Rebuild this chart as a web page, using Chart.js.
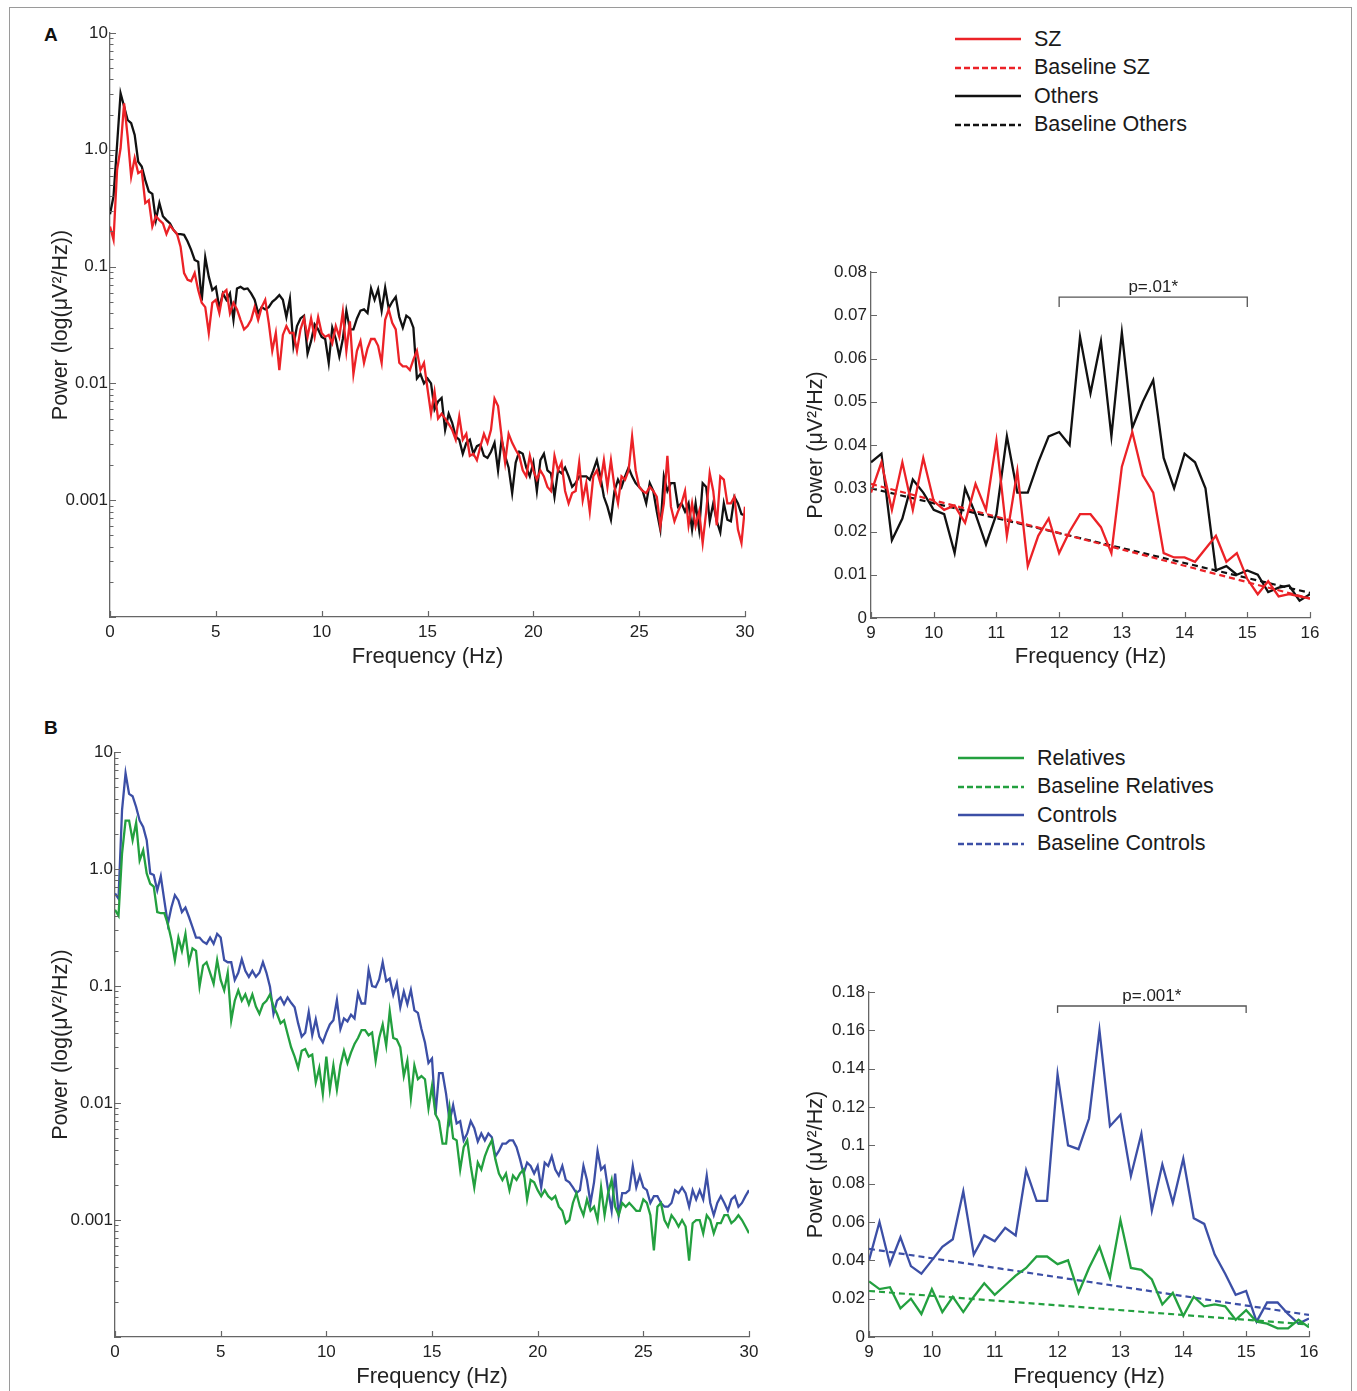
<!DOCTYPE html>
<html><head><meta charset="utf-8">
<script src="https://cdn.jsdelivr.net/npm/chart.js@4.4.1/dist/chart.umd.min.js"></script>
<style>
html,body{margin:0;padding:0;background:#fff;overflow:hidden;width:1357px;height:1391px;font-family:'Liberation Sans',Arial,sans-serif;}
.frame{position:absolute;left:9px;top:7px;width:1343px;height:1420px;border:1px solid #9a9a9a;box-sizing:border-box;}
canvas{position:absolute;}
.tag{position:absolute;font-weight:bold;font-size:19px;color:#111;line-height:19px;}
.legend{position:absolute;font-size:21.5px;color:#1a1a1a;}
.legend .row{display:flex;align-items:center;height:28.5px;white-space:nowrap;}
.legend svg{margin-right:13px;flex:none;}
</style></head><body>
<div class="frame"></div>
<div class="tag" style="left:44px;top:25px">A</div>
<div class="tag" style="left:44px;top:718px">B</div>
<canvas id="leftA" width="716" height="653" style="left:44px;top:20px"></canvas>
<canvas id="rightA" width="531" height="423" style="left:799px;top:250px"></canvas>
<canvas id="leftB" width="720" height="653" style="left:44px;top:740px"></canvas>
<canvas id="rightB" width="531" height="423" style="left:799px;top:970px"></canvas>
<div class="legend" id="legendA" style="left:955px;top:25px"></div>
<div class="legend" id="legendB" style="left:958px;top:744px"></div>
<script>
// ---------- data ----------
const STEP_HZ = 1 / 6;          // spectral resolution
const ALPHA_START_HZ = 9;
const HIGH_START_HZ = 16 + 1 / 6;

// Panel A : SZ (red) vs Others (black)
const szLow = [0.22,0.17,0.67,1.03,2.5,1.3,0.59,0.85,0.63,0.66,
  0.35,0.37,0.22,0.27,0.25,0.234,0.19,0.225,0.206,0.19,
  0.148,0.088,0.077,0.075,0.088,0.063,0.049,0.045,0.027,0.049,
  0.052,0.040,0.059,0.063,0.040,0.049,0.043,0.035,0.029,0.031,
  0.035,0.045,0.035,0.045,0.052,0.033,0.019,0.027,0.013,0.026,
  0.031,0.027,0.027,0.019];
const szAlpha = [0.029,0.036,0.025,0.036,0.025,0.037,0.027,0.025,0.026,0.022,
  0.031,0.025,0.041,0.019,0.034,0.012,0.019,0.023,0.015,0.020,
  0.024,0.024,0.021,0.015,0.035,0.043,0.033,0.029,0.015,0.014,
  0.014,0.013,0.016,0.019,0.013,0.015,0.009,0.0055,0.0085,0.005,
  0.0055,0.005,0.0045];
const szHigh = [0.0040,0.0033,0.0052,0.0033,0.0037,0.0024,0.0025,0.0022,0.0029,0.0037,
  0.0031,0.0040,0.0074,0.0064,0.0035,0.0021,0.0037,0.0031,0.0027,0.0024,
  0.0018,0.0016,0.0024,0.0018,0.0015,0.0018,0.0016,0.0013,0.0012,0.0024,
  0.0018,0.0021,0.0012,0.00094,0.00115,0.0012,0.0021,0.0010,0.0014,0.0008,
  0.0016,0.0018,0.0014,0.0022,0.0013,0.0022,0.0013,0.00094,0.0016,0.0015,
  0.0018,0.0035,0.0018,0.0013,0.0012,0.00115,0.0013,0.0012,0.00107,0.0006,
  0.00094,0.0024,0.00088,0.00066,0.0008,0.00094,0.0012,0.00061,0.00094,0.0006,
  0.0008,0.00043,0.0008,0.0017,0.0012,0.00061,0.0016,0.0015,0.00094,0.00094,
  0.00107,0.00056,0.00043,0.00088];
const othLow = [0.28,0.40,1.1,3.05,2.35,1.8,1.69,1.34,0.79,0.72,
  0.55,0.44,0.42,0.25,0.35,0.27,0.25,0.234,0.206,0.19,
  0.19,0.187,0.164,0.139,0.114,0.11,0.051,0.12,0.082,0.063,
  0.067,0.044,0.059,0.052,0.059,0.035,0.065,0.067,0.064,0.065,
  0.059,0.052,0.040,0.045,0.043,0.045,0.050,0.053,0.057,0.052,
  0.037,0.053,0.021,0.031];
const othAlpha = [0.036,0.038,0.018,0.023,0.032,0.029,0.025,0.024,0.015,0.030,
  0.024,0.017,0.024,0.042,0.029,0.029,0.036,0.042,0.043,0.040,
  0.065,0.052,0.064,0.042,0.066,0.044,0.050,0.055,0.037,0.030,
  0.038,0.036,0.030,0.011,0.012,0.010,0.011,0.010,0.006,0.007,
  0.0075,0.004,0.0055];
const othHigh = [0.0046,0.0035,0.0033,0.0025,0.0031,0.0033,0.0025,0.0029,0.0030,0.0024,
  0.0023,0.0026,0.0031,0.0018,0.0033,0.0024,0.0019,0.00115,0.0021,0.0026,
  0.0025,0.0019,0.0016,0.0021,0.0012,0.0022,0.0025,0.0018,0.0017,0.00107,
  0.0018,0.0017,0.0019,0.0016,0.0013,0.0014,0.0016,0.0016,0.0016,0.0015,
  0.0018,0.0022,0.0016,0.00107,0.00088,0.00068,0.0012,0.0015,0.0013,0.0016,
  0.0019,0.0016,0.0014,0.0013,0.0012,0.00094,0.0014,0.0012,0.0008,0.00056,
  0.0016,0.0012,0.0014,0.0014,0.00088,0.00094,0.0008,0.00094,0.00056,0.00094,
  0.00056,0.0014,0.0013,0.00066,0.00094,0.00066,0.00053,0.00094,0.00068,0.00066,
  0.00107,0.00094,0.00076,0.00074];

// Panel B : Relatives (green) vs Controls (blue)
const relLow = [0.45,0.40,1.36,2.6,2.6,1.77,2.5,1.19,1.45,0.92,
  0.75,0.71,0.43,0.42,0.42,0.34,0.25,0.167,0.26,0.20,
  0.28,0.16,0.21,0.20,0.099,0.15,0.16,0.13,0.105,0.167,
  0.113,0.092,0.13,0.051,0.075,0.092,0.075,0.085,0.070,0.085,
  0.067,0.058,0.070,0.075,0.085,0.067,0.058,0.048,0.051,0.039,
  0.030,0.025,0.020,0.028];
const relAlpha = [0.029,0.025,0.026,0.015,0.020,0.012,0.025,0.013,0.021,0.013,
  0.021,0.028,0.022,0.027,0.032,0.036,0.042,0.042,0.038,0.040,
  0.023,0.036,0.047,0.031,0.061,0.036,0.035,0.030,0.017,0.023,
  0.011,0.021,0.016,0.017,0.016,0.009,0.014,0.008,0.007,0.0045,
  0.0045,0.009,0.005];
const relHigh = [0.0048,0.0027,0.0042,0.0048,0.0029,0.0019,0.0031,0.0027,0.0035,0.0042,
  0.0048,0.0033,0.0025,0.0022,0.0025,0.0018,0.0024,0.0022,0.0025,0.0027,
  0.0015,0.0022,0.0021,0.0018,0.0016,0.0018,0.0016,0.0015,0.0016,0.0013,
  0.0012,0.00094,0.0010,0.0014,0.0017,0.0013,0.0011,0.0015,0.0012,0.0013,
  0.0010,0.0019,0.0011,0.0017,0.0022,0.0013,0.0011,0.0014,0.0013,0.0014,
  0.0013,0.0012,0.0012,0.0015,0.0014,0.0011,0.00055,0.0013,0.0014,0.0010,
  0.00088,0.0011,0.0010,0.00088,0.0010,0.00088,0.00045,0.00094,0.0010,0.0010,
  0.00077,0.0011,0.0010,0.00077,0.00094,0.00094,0.0011,0.0011,0.00094,0.0010,
  0.0011,0.0010,0.00088,0.00077];
const ctrlLow = [0.62,0.56,3.2,6.6,4.4,4.2,3.4,2.6,2.3,1.77,
  0.92,0.89,0.66,0.87,0.54,0.34,0.47,0.60,0.54,0.43,
  0.47,0.39,0.32,0.26,0.26,0.24,0.23,0.26,0.23,0.28,
  0.26,0.167,0.16,0.16,0.113,0.13,0.17,0.135,0.12,0.135,
  0.12,0.13,0.16,0.13,0.099,0.058,0.075,0.080,0.070,0.080,
  0.072,0.066,0.048,0.037];
const ctrlAlpha = [0.040,0.060,0.038,0.052,0.037,0.033,0.040,0.047,0.051,0.076,
  0.043,0.053,0.050,0.057,0.053,0.087,0.071,0.071,0.137,0.100,
  0.098,0.114,0.160,0.110,0.116,0.084,0.106,0.066,0.090,0.070,
  0.093,0.062,0.059,0.043,0.033,0.022,0.024,0.008,0.018,0.018,
  0.012,0.007,0.0096];
const ctrlHigh = [0.0067,0.0070,0.0048,0.0055,0.0070,0.0061,0.0047,0.0055,0.0048,0.0055,
  0.0051,0.0035,0.0039,0.0045,0.0045,0.0048,0.0048,0.0042,0.0033,0.0025,
  0.0031,0.0029,0.0025,0.0029,0.0019,0.0031,0.0029,0.0035,0.0027,0.0024,
  0.0029,0.0022,0.0021,0.0019,0.0017,0.0018,0.0029,0.0022,0.0014,0.0021,
  0.0039,0.0027,0.0029,0.0018,0.0012,0.0025,0.0011,0.0017,0.0017,0.0018,
  0.0029,0.0019,0.0024,0.0019,0.0018,0.0014,0.0016,0.0016,0.0014,0.0013,
  0.0013,0.0014,0.0018,0.0017,0.0019,0.0017,0.0013,0.0018,0.0015,0.0018,
  0.0015,0.0024,0.0014,0.0011,0.0014,0.0016,0.0014,0.0012,0.0015,0.0016,
  0.0013,0.0014,0.0016,0.0018];

// linear baselines (value at 9 Hz and at 16 Hz)
const baselineFreqs = [9, 16];
const baselineSZ = [0.031, 0.0045];
const baselineOthers = [0.030, 0.0058];
const baselineRel = [0.024, 0.0065];
const baselineCtrl = [0.046, 0.0115];

// significance brackets
const bracketA = {start: 12, end: 15, top: 0.0742, foot: 0.0719, text: 'p=.01*'};
const bracketB = {start: 12, end: 15, top: 0.1727, foot: 0.169, text: 'p=.001*'};

// ticks
const logTickValues = [10, 1, 0.1, 0.01, 0.001];
const logTickLabels = ['10', '1.0', '0.1', '0.01', '0.001'];
const logDecades = [0.0001, 0.001, 0.01, 0.1, 1];
const wideFreqTicks = [0, 5, 10, 15, 20, 25, 30];
const alphaFreqTicks = [9, 10, 11, 12, 13, 14, 15, 16];
const powerTicksA = [0, 0.01, 0.02, 0.03, 0.04, 0.05, 0.06, 0.07, 0.08];
const powerLabelsA = ['0', '0.01', '0.02', '0.03', '0.04', '0.05', '0.06', '0.07', '0.08'];
const powerTicksB = [0, 0.02, 0.04, 0.06, 0.08, 0.1, 0.12, 0.14, 0.16, 0.18];
const powerLabelsB = ['0', '0.02', '0.04', '0.06', '0.08', '0.1', '0.12', '0.14', '0.16', '0.18'];

// ---------- styles ----------
const RED = '#ec2227', BLACK = '#111111', GREEN = '#23a03f', BLUE = '#3c4fa6';
const AXIS_COLOR = '#666666', TEXT = '#222222', FONT = "'Liberation Sans', Arial, sans-serif";

// ---------- helpers ----------
const toPoints = (vals, start) => vals.map((v, i) => ({x: start + i * STEP_HZ, y: v}));
const fullSeries = (low, alpha, high) => toPoints(low, 0).concat(toPoints(alpha, ALPHA_START_HZ), toPoints(high, HIGH_START_HZ));
const baselinePts = vals => vals.map((v, i) => ({x: baselineFreqs[i], y: v}));
const bracketPts = b => [{x: b.start, y: b.foot}, {x: b.start, y: b.top}, {x: b.end, y: b.top}, {x: b.end, y: b.foot}];

const logTicks = [];
logDecades.forEach(d => { for (let m = 1; m <= 9; m++) logTicks.push({value: m * d, major: m === 1}); });
logTicks.push({value: 10, major: true});

const solid = (label, data, color, w) => ({label, data, borderColor: color, borderWidth: w, pointRadius: 0, fill: false, tension: 0});
const dashed = (label, data, color) => ({label, data, borderColor: color, borderWidth: 2.2, borderDash: [6, 4], pointRadius: 0, fill: false, tension: 0});

const inwardTicks = {
  id: 'inwardTicks',
  afterDraw(chart) {
    const {ctx, chartArea: a} = chart;
    const xs = chart.scales.x, ys = chart.scales.y;
    ctx.save();
    ctx.strokeStyle = AXIS_COLOR; ctx.lineWidth = 1.2;
    ctx.beginPath();
    ys.ticks.forEach(t => {
      const p = Math.round(ys.getPixelForValue(t.value)) + 0.5;
      const len = t.major === false ? 3.5 : 6;
      ctx.moveTo(a.left, p); ctx.lineTo(a.left + len, p);
    });
    xs.ticks.forEach(t => {
      const p = Math.round(xs.getPixelForValue(t.value)) + 0.5;
      ctx.moveTo(p, a.bottom); ctx.lineTo(p, a.bottom - 6);
    });
    ctx.stroke();
    ctx.restore();
  }
};
const bracketLabel = {
  id: 'bracketLabel',
  afterDatasetsDraw(chart, args, opts) {
    if (!opts || !opts.text) return;
    const {ctx} = chart; const xs = chart.scales.x, ys = chart.scales.y;
    const cx = (xs.getPixelForValue(opts.start) + xs.getPixelForValue(opts.end)) / 2;
    const cy = ys.getPixelForValue(opts.top);
    ctx.save();
    ctx.font = '17px ' + FONT; ctx.fillStyle = TEXT;
    ctx.textAlign = 'center'; ctx.textBaseline = 'bottom';
    ctx.fillText(opts.text, cx, cy - 1);
    ctx.restore();
  }
};

function makeChart(id, c) {
  const yScale = c.log ? {
    type: 'logarithmic', min: 0.0001, max: 10,
    afterBuildTicks: s => { s.ticks = logTicks.map(t => ({value: t.value, major: t.major})); },
    ticks: {autoSkip: false, padding: 2, color: TEXT, font: {size: 17, family: FONT},
      callback: v => { const k = logTickValues.findIndex(t => Math.abs(v - t) / t < 1e-9); return k >= 0 ? logTickLabels[k] : ''; }},
    title: {display: true, text: 'Power (log(\u03bcV\u00b2/Hz))', color: TEXT, font: {size: 21.5, family: FONT}}
  } : {
    type: 'linear', min: c.yTicks[0], max: c.yTicks[c.yTicks.length - 1],
    afterBuildTicks: s => { s.ticks = c.yTicks.map(v => ({value: v})); },
    ticks: {autoSkip: false, padding: 4, color: TEXT, font: {size: 17, family: FONT},
      callback: (v, i) => c.yLabels[i]},
    title: {display: true, text: 'Power (\u03bcV\u00b2/Hz)', color: TEXT, font: {size: 21.5, family: FONT}}
  };
  Object.assign(yScale, {
    afterFit: s => { s.width = c.yW; },
    grid: {display: true, drawOnChartArea: false, drawTicks: false},
    border: {display: true, color: AXIS_COLOR, width: 1.3}
  });
  return new Chart(document.getElementById(id), {
    type: 'line',
    data: {datasets: c.datasets},
    options: {
      responsive: false, animation: false, devicePixelRatio: 1,
      layout: {padding: c.padding},
      plugins: {legend: {display: false}, tooltip: {enabled: false}, bracketLabel: c.bracket || {}},
      scales: {
        x: {
          type: 'linear', min: c.xTicks[0], max: c.xTicks[c.xTicks.length - 1],
          afterBuildTicks: s => { s.ticks = c.xTicks.map(v => ({value: v})); },
          afterFit: s => { s.height = c.xH; },
          ticks: {autoSkip: false, maxRotation: 0, padding: 5, color: TEXT, font: {size: 17, family: FONT},
            callback: (v, i) => String(c.xTicks[i])},
          grid: {display: true, drawOnChartArea: false, drawTicks: false},
          border: {display: true, color: AXIS_COLOR, width: 1.3},
          title: {display: true, text: 'Frequency (Hz)', color: TEXT, font: {size: 22, family: FONT}, padding: {top: 2, bottom: 3}}
        },
        y: yScale
      }
    },
    plugins: [inwardTicks, bracketLabel]
  });
}

makeChart('leftA', {
  log: true, xTicks: wideFreqTicks, yW: 66, xH: 56, padding: {top: 13, right: 15, left: 0, bottom: 0},
  datasets: [solid('SZ', fullSeries(szLow, szAlpha, szHigh), RED, 2.3),
             solid('Others', fullSeries(othLow, othAlpha, othHigh), BLACK, 2.3)]
});
makeChart('rightA', {
  xTicks: alphaFreqTicks, yTicks: powerTicksA, yLabels: powerLabelsA, yW: 72, xH: 55,
  padding: {top: 22, right: 20, left: 0, bottom: 0}, bracket: bracketA,
  datasets: [solid('SZ', toPoints(szAlpha, ALPHA_START_HZ), RED, 2.3),
             dashed('Baseline SZ', baselinePts(baselineSZ), RED),
             solid('Others', toPoints(othAlpha, ALPHA_START_HZ), BLACK, 2.3),
             dashed('Baseline Others', baselinePts(baselineOthers), BLACK),
             solid('bracket', bracketPts(bracketA), '#555555', 1.3)]
});
makeChart('leftB', {
  log: true, xTicks: wideFreqTicks, yW: 71, xH: 56, padding: {top: 12, right: 15, left: 0, bottom: 0},
  datasets: [solid('Relatives', fullSeries(relLow, relAlpha, relHigh), GREEN, 2.3),
             solid('Controls', fullSeries(ctrlLow, ctrlAlpha, ctrlHigh), BLUE, 2.3)]
});
makeChart('rightB', {
  xTicks: alphaFreqTicks, yTicks: powerTicksB, yLabels: powerLabelsB, yW: 70, xH: 56,
  padding: {top: 22, right: 21, left: 0, bottom: 0}, bracket: bracketB,
  datasets: [solid('Relatives', toPoints(relAlpha, ALPHA_START_HZ), GREEN, 2.3),
             dashed('Baseline Relatives', baselinePts(baselineRel), GREEN),
             solid('Controls', toPoints(ctrlAlpha, ALPHA_START_HZ), BLUE, 2.3),
             dashed('Baseline Controls', baselinePts(baselineCtrl), BLUE),
             solid('bracket', bracketPts(bracketB), '#555555', 1.3)]
});

// HTML legends
function legend(id, items) {
  const el = document.getElementById(id);
  items.forEach(([label, color, dash]) => {
    const row = document.createElement('div'); row.className = 'row';
    row.innerHTML = '<svg width="66" height="4"><line x1="0" y1="2" x2="66" y2="2" stroke="' + color +
      '" stroke-width="2.3"' + (dash ? ' stroke-dasharray="6,3"' : '') + '/></svg><span>' + label + '</span>';
    el.appendChild(row);
  });
}
legend('legendA', [['SZ', RED, false], ['Baseline SZ', RED, true], ['Others', BLACK, false], ['Baseline Others', BLACK, true]]);
legend('legendB', [['Relatives', GREEN, false], ['Baseline Relatives', GREEN, true], ['Controls', BLUE, false], ['Baseline Controls', BLUE, true]]);
</script>
</body></html>
